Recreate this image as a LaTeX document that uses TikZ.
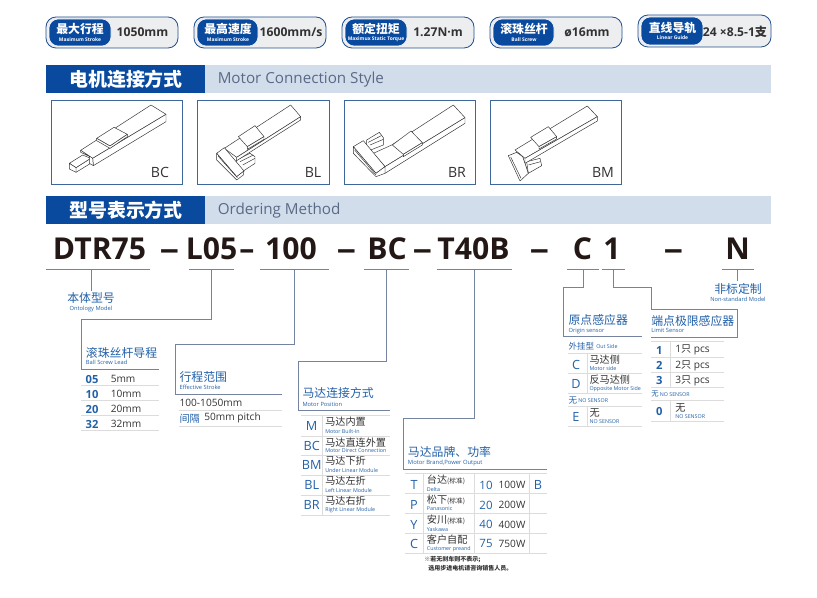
\documentclass[tikz,border=0pt]{standalone}
\usepackage{fontspec}
\setmainfont{Open Sans}
\newfontfamily\cjk{Noto Sans CJK SC}
\usetikzlibrary{positioning}

\newcommand{\fsz}[1]{\fontsize{#1}{#1}\selectfont}

\tikzset{
  pillbox/.style={draw=pillblue, fill=pillgray, line width=0.6pt, rounded corners=7.5pt},
  pillhead/.style={draw=white, fill=headblue, line width=0.4pt, rounded corners=7pt},
  pillcn/.style={inner sep=0pt, text=white, font=\cjk\bfseries\fsz{8.9}},
  pillen/.style={inner sep=0pt, text=white, font=\bfseries\fsz{3.7}},
  pillval/.style={inner sep=0pt, text=darktext, font=\bfseries\fsz{9.1}},
  headcn/.style={inner sep=0pt, text=white, font=\cjk\bfseries\fsz{14.2}},
  headen/.style={anchor=west, inner sep=0pt, text=headgray, font=\fsz{11.4}},
  photobox/.style={draw=framblue, line width=0.6pt},
  phototag/.style={inner sep=0pt, text=darktext, font=\fsz{10.6}},
  sketch/.style={draw=sketchgray, fill=white, line width=0.35pt, line join=round},
  partcode/.style={anchor=base, inner sep=0pt, text=inkblack, font=\bfseries\fsz{22.6}},
  leadline/.style={draw=leadgray, line width=0.65pt},
  rowrule/.style={draw=rulegray, line width=0.7pt},
  paneltitle/.style={anchor=west, inner sep=0pt, text=paneblue, font=\cjk\fsz{8.9}},
  panelsub/.style={anchor=west, inner sep=0pt, text=paneblue, font=\fsz{4.3}},
  rowcode/.style={inner sep=0pt, text=paneblue, font=\bfseries\fsz{8.4}},
  rowtext/.style={anchor=west, inner sep=0pt, text=darktext, font=\fsz{7.6}},
  rowcn/.style={anchor=west, inner sep=0pt, text=darktext, font=\cjk\fsz{7.6}},
  rowsub/.style={anchor=west, inner sep=0pt, text=paneblue, font=\fsz{4}},
}

\begin{document}
\begin{tikzpicture}[x=0.75pt, y=-0.75pt]
  % Colors
  \definecolor{headblue}{RGB}{10,74,158}
  \definecolor{pillblue}{RGB}{32,78,140}
  \definecolor{pillgray}{RGB}{237,238,240}
  \definecolor{barblue}{RGB}{210,221,236}
  \definecolor{headgray}{RGB}{90,106,134}
  \definecolor{framblue}{RGB}{62,104,156}
  \definecolor{sketchgray}{RGB}{50,50,50}
  \definecolor{inkblack}{RGB}{35,24,21}
  \definecolor{darktext}{RGB}{50,50,50}
  \definecolor{leadgray}{RGB}{116,131,160}
  \definecolor{rulegray}{RGB}{220,220,220}
  \definecolor{paneblue}{RGB}{34,96,168}

  \useasboundingbox (0,0) rectangle (817,598);

  % Spec pills
  \draw[pillbox] (46,17) rectangle (178,48);
  \draw[pillhead] (49,19) rectangle (111,46);
  \node[pillcn] (maxcn) at (80,29) {最大行程};
  \node[pillen] (maxen) at (80,39.5) {Maximum Stroke};
  \node[pillval] (maxval) at (142.5,32) {1050mm};

  \draw[pillbox] (194,17) rectangle (326,48);
  \draw[pillhead] (197,19) rectangle (258,46);
  \node[pillcn] (speedcn) at (228,29) {最高速度};
  \node[pillen] (speeden) at (228,39.5) {Maximum Stroke};
  \node[pillval] (speedval) at (291,32) {1600mm/s};

  \draw[pillbox] (342,17) rectangle (474,48);
  \draw[pillhead] (345,19) rectangle (407,46);
  \node[pillcn] (torquecn) at (376,29) {额定扭矩};
  \node[pillen] (torqueen) at (376,39.5) {Maximux Static Torque};
  \node[pillval] (torqueval) at (438,32) {1.27N·m};

  \draw[pillbox] (490,17) rectangle (622,48);
  \draw[pillhead] (493,19) rectangle (554,46);
  \node[pillcn] (screwcn) at (524,29) {滚珠丝杆};
  \node[pillen] (screwen) at (524,39.5) {Ball Screw};
  \node[pillval] (screwval) at (587,32) {ø16mm};

  \draw[pillbox] (638,15) rectangle (771,47);
  \draw[pillhead] (641,17) rectangle (703,45);
  \node[pillcn] (guidecn) at (672.5,28) {直线导轨};
  \node[pillen] (guideen) at (672.5,38) {Linear Guide};
  \node[pillval] (guideval) at (735,32) {24 ×8.5-1{\cjk 支}};

  % Section bars
  \fill[barblue] (46,65) rectangle (771,93);
  \fill[headblue] (46,65) rectangle (205,93);
  \node[headcn] (stylecn) at (126,79.5) {电机连接方式};
  \node[headen] (styleen) at (217.5,80) {Motor Connection Style};

  \fill[barblue] (46,196) rectangle (771,224);
  \fill[headblue] (46,196) rectangle (205,224);
  \node[headcn] (ordercn) at (126,210.5) {型号表示方式};
  \node[headen] (orderen) at (217.5,211) {Ordering Method};

  % Motor connection pictures
  \draw[photobox] (51,100) rectangle (182,184);
  \draw[photobox] (197,100) rectangle (329,184);
  \draw[photobox] (344,100) rectangle (475,184);
  \draw[photobox] (490,100) rectangle (621,184);
  \node[phototag] (tagbc) at (160,172.5) {BC};
  \node[phototag] (tagbl) at (313,172.5) {BL};
  \node[phototag] (tagbr) at (457,172.5) {BR};
  \node[phototag] (tagbm) at (603,172.5) {BM};

  % BC sketch
  \begin{scope}[shift={(40,95)}, x=0.25pt, y=-0.25pt]
    \draw[sketch] (108,218) -- (152,190) -- (152,205) -- (108,232) -- cycle;
    \draw[sketch] (88,205) -- (128,180) -- (152,190) -- (108,218) -- cycle;
    \draw[sketch] (88,205) -- (108,218) -- (108,232) -- (88,222) -- cycle;
    \draw[sketch] (122,166) -- (333,30) -- (378,58) -- (158,190) -- cycle;
    \draw[sketch] (158,190) -- (378,58) -- (378,80) -- (160,212) -- cycle;
    \draw[sketch] (122,166) -- (158,190) -- (160,212) -- (148,205) -- (148,184) -- (122,172) -- cycle;
    \draw[sketch] (170,130) -- (222,97) -- (262,118) -- (210,153) -- cycle;
    \draw[sketch] (170,130) -- (210,153) -- (262,118) -- (262,125) -- (210,160) -- (170,137) -- cycle;
  \end{scope}

  % BL sketch
  \begin{scope}[shift={(40,95)}, x=0.25pt, y=-0.25pt]
    \draw[sketch] (590,195) -- (630,175) -- (645,185) -- (645,205) -- (610,228) -- (590,215) -- cycle;
    \draw[sketch] (600,200) -- (640,180);
    \draw[sketch] (608,210) -- (645,190);
    \draw[sketch] (553,160) -- (752,30) -- (782,65) -- (590,187) -- cycle;
    \draw[sketch] (590,187) -- (782,65) -- (782,75) -- (590,197) -- cycle;
    \draw[sketch] (530,175) -- (553,158) -- (612,228) -- (590,245) -- cycle;
    \draw[sketch] (530,175) -- (590,245) -- (612,228) -- (610,240) -- (590,255) -- (530,195) -- cycle;
    \draw[sketch] (535,184) -- (592,248);
    \draw[sketch] (595,125) -- (645,92) -- (672,125) -- (622,155) -- cycle;
    \draw[sketch] (622,155) -- (672,125) -- (672,133) -- (622,163) -- cycle;
  \end{scope}

  % BR sketch
  \begin{scope}[shift={(340,95)}, x=0.25pt, y=-0.25pt]
    \draw[sketch] (80,135) -- (118,112) -- (130,128) -- (130,150) -- (92,165) -- (80,155) -- cycle;
    \draw[sketch] (85,142) -- (124,122);
    \draw[sketch] (90,150) -- (130,133);
    \draw[sketch] (155,150) -- (340,30) -- (375,68) -- (135,215) -- (100,175) -- cycle;
    \draw[sketch] (135,215) -- (375,68) -- (375,85) -- (135,235) -- cycle;
    \draw[sketch] (157,150) -- (213,108) -- (247,143) -- (190,178) -- cycle;
    \draw[sketch] (190,178) -- (247,143) -- (247,150) -- (190,185) -- cycle;
    \draw[sketch] (40,155) -- (70,137) -- (135,215) -- (108,235) -- cycle;
    \draw[sketch] (40,155) -- (108,235) -- (135,215) -- (135,235) -- (108,245) -- (40,175) -- cycle;
    \draw[sketch] (44,165) -- (108,240);
  \end{scope}

  % BM sketch
  \begin{scope}[shift={(340,95)}, x=0.25pt, y=-0.25pt]
    \draw[sketch] (560,200) -- (600,190) -- (605,212) -- (565,235) -- cycle;
    \draw[sketch] (565,210) -- (602,200);
    \draw[sketch] (525,165) -- (742,33) -- (772,65) -- (555,190) -- cycle;
    \draw[sketch] (555,190) -- (772,65) -- (772,78) -- (555,205) -- cycle;
    \draw[sketch] (505,182) -- (530,172) -- (548,185) -- (565,235) -- (540,258) -- cycle;
    \draw[sketch] (530,172) -- (548,185) -- (565,235);
    \draw[sketch] (512,186) -- (543,250);
    \draw[sketch] (572,127) -- (625,95) -- (650,125) -- (597,155) -- cycle;
    \draw[sketch] (597,155) -- (650,125) -- (650,132) -- (597,162) -- cycle;
  \end{scope}

  % Ordering code
  \node[partcode] (dtr) at (99.5,259.5) {DTR75};
  \node[partcode] (dasha) at (169.5,259.5) {\scalebox{1.3}[1]{–}};
  \node[partcode] (lead) at (211.5,259.5) {L05};
  \node[partcode] (dashb) at (247,259.5) {–};
  \node[partcode] (stroke) at (291,259.5) {100};
  \node[partcode] (dashc) at (346.5,259.5) {\scalebox{1.3}[1]{–}};
  \node[partcode] (pos) at (387,259.5) {BC};
  \node[partcode] (dashd) at (422.5,259.5) {\scalebox{1.3}[1]{–}};
  \node[partcode] (brand) at (473.5,259.5) {T40B};
  \node[partcode] (dashe) at (539.5,259.5) {\scalebox{1.3}[1]{–}};
  \node[partcode] (origin) at (582.5,259.5) {C};
  \node[partcode] (limit) at (612,259.5) {1};
  \node[partcode] (dashf) at (673.5,259.5) {\scalebox{1.3}[1]{–}};
  \node[partcode] (nonstd) at (737.5,259.5) {N};

  % Underlines below the code
  \draw[leadline] (46,269) -- (150,269);
  \draw[leadline] (189,269) -- (234,269);
  \draw[leadline] (260,269) -- (329,269);
  \draw[leadline] (364,269) -- (409,269);
  \draw[leadline] (437,269) -- (512,269);
  \draw[leadline] (567,269) -- (599,269);
  \draw[leadline] (602,269) -- (625,269);
  \draw[leadline] (722,269) -- (754,269);

  % Lead lines
  \coordinate (dtrtop) at (91.3,269);
  \coordinate (dtrend) at (91.3,291);
  \coordinate (leadtop) at (211.7,269);
  \coordinate (leadbend) at (81,319.3);
  \coordinate (leadend) at (159,369.3);
  \coordinate (stroketop) at (294,269);
  \coordinate (strokebend) at (175,344.3);
  \coordinate (strokeend) at (282,394);
  \coordinate (postop) at (386.7,269);
  \coordinate (posbend) at (298.3,361);
  \coordinate (posend) at (390,410.7);
  \coordinate (brandtop) at (474.3,269);
  \coordinate (brandbend) at (403.3,418.3);
  \coordinate (brandend) at (547,469);
  \coordinate (origintop) at (583.3,269);
  \coordinate (originbend) at (563.3,287.3);
  \coordinate (originend) at (642,336.7);
  \coordinate (limittop) at (613.3,269);
  \coordinate (limitbend) at (651,287.3);
  \coordinate (limitcorner) at (737,309);
  \coordinate (limitend) at (651,337);
  \coordinate (nonstdtop) at (737.7,269);
  \coordinate (nonstdend) at (737.7,281);
  \draw[leadline] (dtrtop) -- (dtrend);
  \draw[leadline] (leadtop) |- (leadbend) |- (leadend);
  \draw[leadline] (stroketop) |- (strokebend) |- (strokeend);
  \draw[leadline] (postop) |- (posbend) |- (posend);
  \draw[leadline] (brandtop) |- (brandbend) |- (brandend);
  \draw[leadline] (origintop) |- (originbend) |- (originend);
  \draw[leadline] (limittop) |- (limitbend) |- (limitcorner) |- (limitend);
  \draw[leadline] (nonstdtop) -- (nonstdend);

  % Model and non-standard labels
  \node[paneltitle, anchor=center] (dtrcn) at (91,298) {本体型号};
  \node[panelsub, anchor=center] (dtren) at (91,309) {Ontology Model};
  \node[paneltitle, anchor=center] (nonstdcn) at (738,289) {非标定制};
  \node[panelsub, anchor=center] (nonstden) at (738,299.5) {Non-standard Model};

  % Ball screw lead
  \node[paneltitle] (leadcn) at (85.7,352.7) {滚珠丝杆导程};
  \node[panelsub] (leaden) at (85.7,362.7) {Ball Screw Lead};
  \node[rowcode] (lead05) at (92,379) {05};
  \node[rowtext] (leadv05) at (110.5,379) {5mm};
  \node[rowcode] (lead10) at (92,394) {10};
  \node[rowtext] (leadv10) at (110.5,394) {10mm};
  \node[rowcode] (lead20) at (92,409) {20};
  \node[rowtext] (leadv20) at (110.5,409) {20mm};
  \node[rowcode] (lead32) at (92,424) {32};
  \node[rowtext] (leadv32) at (110.5,424) {32mm};
  \draw[rowrule] (81,385) -- (159,385) (81,400) -- (159,400) (81,415) -- (159,415) (81,430) -- (159,430);

  % Effective stroke
  \node[paneltitle] (strokecn) at (179.3,377) {行程范围};
  \node[panelsub] (strokeen) at (179.3,387.7) {Effective Stroke};
  \node[rowtext] (strokerange) at (179.3,403.3) {100-1050mm};
  \node[rowcn, text=paneblue] (pitchcn) at (179.3,418.3) {间隔};
  \node[rowtext] (pitchval) at (204,418.3) {50mm pitch};
  \draw[rowrule] (179,410) -- (282,410) (179,426) -- (282,426);

  % Motor position
  \node[paneltitle] (poscn) at (302.3,393.3) {马达连接方式};
  \node[panelsub] (posen) at (302.3,404.7) {Motor Position};
  \node[rowcode, font=\fsz{9.5}] (posm) at (311.7,426) {M};
  \node[rowcn] (posmcn) at (325,421.7) {马达内置};
  \node[rowsub] (posmen) at (325,431) {Motor Built-In};
  \node[rowcode, font=\fsz{9.5}] (posbc) at (311.7,446) {BC};
  \node[rowcn] (posbccn) at (325,442.3) {马达直连外置};
  \node[rowsub] (posbcen) at (325,450.5) {Motor Direct Connection};
  \node[rowcode, font=\fsz{9.5}] (posbm) at (311.7,465) {BM};
  \node[rowcn] (posbmcn) at (325,461) {马达下折};
  \node[rowsub] (posbmen) at (325,470) {Under Linear Module};
  \node[rowcode, font=\fsz{9.5}] (posbl) at (311.7,485) {BL};
  \node[rowcn] (posblcn) at (325,481) {马达左折};
  \node[rowsub] (posblen) at (325,490) {Left Linear Module};
  \node[rowcode, font=\fsz{9.5}] (posbr) at (311.7,505) {BR};
  \node[rowcn] (posbrcn) at (325,500.7) {马达右折};
  \node[rowsub] (posbren) at (325,510.3) {Right Linear Module};
  \draw[rowrule] (301,415.5) -- (390,415.5) (301,436) -- (390,436) (301,455.5) -- (390,455.5) (301,475) -- (390,475) (301,495) -- (390,495) (301,515) -- (390,515);
  \draw[rowrule] (322,415.5) -- (322,515);

  % Motor brand and power
  \node[paneltitle] (brandcn) at (407.7,451.7) {马达品牌、功率};
  \node[panelsub, font=\fsz{4.4}] (branden) at (407.7,462.7) {Motor Brand,Power Output};
  \node[rowcode, font=\fsz{9.5}] (brandt) at (414,485) {T};
  \node[rowcn] (brandtcn) at (426.7,480) {台达{\fsz{5}(标准)}};
  \node[rowsub] (brandten) at (426.7,489) {Delta};
  \node[rowcode, font=\fsz{8.6}] (brand10) at (486,485) {10};
  \node[rowtext, anchor=center] (brandw10) at (512,485) {100W};
  \node[rowcode, font=\fsz{9.5}] (brandb) at (538,485) {B};
  \node[rowcode, font=\fsz{9.5}] (brandp) at (414,505) {P};
  \node[rowcn] (brandpcn) at (426.7,500) {松下{\fsz{5}(标准)}};
  \node[rowsub] (brandpen) at (426.7,509) {Panasonic};
  \node[rowcode, font=\fsz{8.6}] (brand20) at (486,505) {20};
  \node[rowtext, anchor=center] (brandw20) at (512,505) {200W};
  \node[rowcode, font=\fsz{9.5}] (brandy) at (414,524.5) {Y};
  \node[rowcn] (brandycn) at (426.7,520) {安川{\fsz{5}(标准)}};
  \node[rowsub] (brandyen) at (426.7,529) {Yaskawa};
  \node[rowcode, font=\fsz{8.6}] (brand40) at (486,524.5) {40};
  \node[rowtext, anchor=center] (brandw40) at (512,524.5) {400W};
  \node[rowcode, font=\fsz{9.5}] (brandc) at (414,543.5) {C};
  \node[rowcn] (brandccn) at (426.7,540) {客户自配};
  \node[rowsub] (brandcen) at (426.7,549) {Customer preand};
  \node[rowcode, font=\fsz{8.6}] (brand75) at (486,543.5) {75};
  \node[rowtext, anchor=center] (brandw75) at (512,543.5) {750W};
  \draw[rowrule] (405,473) -- (547,473) (405,493) -- (547,493) (405,513) -- (547,513) (405,533) -- (547,533) (405,553) -- (547,553);
  \draw[rowrule] (423,473) -- (423,553) (474,473) -- (474,553) (529,473) -- (529,553);
  \node[rowcn, font=\cjk\bfseries\fsz{4.5}] (notea) at (424,559.5) {※若无刹车则不表示;};
  \node[rowcn, font=\cjk\bfseries\fsz{4.5}] (noteb) at (428,568) {选用步进电机请咨询销售人员。};

  % Origin sensor
  \node[paneltitle] (origincn) at (568.3,320) {原点感应器};
  \node[panelsub] (originen) at (568.3,331) {Origin sensor};
  \node[rowcn, text=paneblue, font=\cjk\fsz{6.4}] (outcn) at (568.3,346.7) {外挂型};
  \node[rowsub] (outen) at (596,347) {Out Side};
  \node[rowcode, font=\fsz{9.5}] (originc) at (576,365) {C};
  \node[rowcn] (origincc) at (589.3,360) {马达侧};
  \node[rowsub] (origince) at (589.3,368.7) {Motor side};
  \node[rowcode, font=\fsz{9.5}] (origind) at (576,384) {D};
  \node[rowcn] (origindc) at (589.3,380) {反马达侧};
  \node[rowsub] (origindne) at (589.3,389) {Opposite Motor Side};
  \node[rowcn, text=paneblue, font=\cjk\fsz{6.4}] (nonecn) at (568.3,400.7) {无};
  \node[rowsub] (noneen) at (578,401) {NO SENSOR};
  \node[rowcode, font=\fsz{9.5}] (origine) at (576,416.7) {E};
  \node[rowcn] (originec) at (589.3,413) {无};
  \node[rowsub] (originen2) at (589.3,422) {NO SENSOR};
  \draw[rowrule] (568,353) -- (642,353) (568,373.3) -- (642,373.3) (568,393.3) -- (642,393.3) (568,406.7) -- (642,406.7) (568,426.7) -- (642,426.7);
  \draw[rowrule] (587.3,353) -- (587.3,393.3) (587.3,406.7) -- (587.3,426.7);

  % Limit sensor
  \node[paneltitle] (limitcn) at (651,320.7) {端点极限感应器};
  \node[panelsub] (limiten) at (651,330.7) {Limit Sensor};
  \node[rowcode] (limit1) at (659.3,350.3) {1};
  \node[rowtext] (limitv1) at (675,350.3) {1{\cjk 只} pcs};
  \node[rowcode] (limit2) at (659.3,365.5) {2};
  \node[rowtext] (limitv2) at (675,365.5) {2{\cjk 只} pcs};
  \node[rowcode] (limit3) at (659.3,380.5) {3};
  \node[rowtext] (limitv3) at (675,380.5) {3{\cjk 只} pcs};
  \node[rowcn, text=paneblue, font=\cjk\fsz{5.5}] (limitnone) at (651,394.3) {无};
  \node[rowsub] (limitnoneen) at (659.5,394.6) {NO SENSOR};
  \node[rowcode] (limit0) at (659.3,411) {0};
  \node[rowcn] (limitv0) at (675,408) {无};
  \node[rowsub] (limitv0en) at (675,417) {NO SENSOR};
  \draw[rowrule] (651,341.7) -- (724,341.7) (651,357) -- (724,357) (651,372.3) -- (724,372.3) (651,387.3) -- (724,387.3) (651,400.7) -- (724,400.7) (651,421) -- (724,421);
  \draw[rowrule] (670,341.7) -- (670,387.3) (670,400.7) -- (670,421);
\end{tikzpicture}
\end{document}
